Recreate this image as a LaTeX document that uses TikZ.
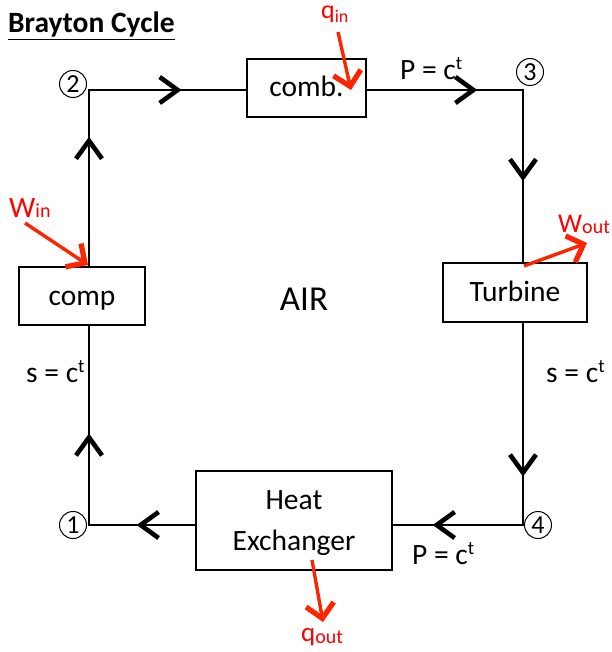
\documentclass[tikz,border=0pt]{standalone}
\usepackage{fontspec}
\setmainfont{Carlito}
\usetikzlibrary{arrows.meta,decorations.markings}
\definecolor{redtxt}{RGB}{255,0,0}
\definecolor{redarr}{RGB}{255,36,0}
\newcommand{\lblfont}{\fontsize{29.5}{34}\selectfont}
\newcommand{\subfont}{\fontsize{20}{22}\selectfont}
\newcommand{\myct}{c\raisebox{10pt}{\fontsize{19}{19}\selectfont t}}
\begin{document}
\begin{tikzpicture}[x=1pt,y=-1pt]
\tikzset{
  flow/.style={line width=2.9pt, line cap=rect},
  chev/.tip={Straight Barb[length=18pt,width=26pt,line width=4.6pt]},
  midarrow/.style={postaction={decorate}, decoration={markings, mark=at position #1 with {\arrow{chev}}}},
  unit/.style={draw, line width=2.2pt, inner sep=0pt, text height=18pt, text depth=0pt, font=\lblfont},
  stn/.style={circle, draw, line width=1pt, minimum size=27pt, inner sep=0pt, font=\fontsize{26}{26}\selectfont},
  lab/.style={anchor=base west, inner sep=0pt, font=\lblfont},
  heat/.style={line width=3.4pt, draw=redarr, -{Straight Barb[length=14pt,width=28pt,line width=5.2pt]}},
  redlab/.style={anchor=base west, inner sep=0pt, text=redtxt, font=\lblfont}
}
\useasboundingbox (0,0) rectangle (611,652);

% title
\node[anchor=base west, inner sep=0pt, font=\fontsize{29.5}{34}\selectfont\bfseries] (title) at (8,33) {\underline{Brayton Cycle}};

% units
\node[unit, minimum width=119pt, minimum height=58pt] (comb) at (306.5,88) {comb.};
\node[unit, minimum width=144pt, minimum height=59pt] (turb) at (515,292.5) {Turbine};
\node[unit, minimum width=126pt, minimum height=58pt] (comp) at (82,296) {comp};
\node[draw, line width=2.2pt, inner sep=0pt, minimum width=196pt, minimum height=99pt, align=center, text depth=0pt, font=\fontsize{29.5}{41}\selectfont] (hx) at (294,520.5) {Heat\\Exchanger};

\node[font=\fontsize{35}{40}\selectfont, anchor=base, inner sep=0pt] (air) at (304,310) {AIR};

% corner points
\coordinate (p2) at (89,90);
\coordinate (p3) at (523,90);
\coordinate (p4) at (523,525);
\coordinate (p1) at (89,525);

% station markers
\node[stn] (s2) at (73,84) {2};
\node[stn] (s3) at (530,72) {3};
\node[stn] (s1) at (73,525) {1};
\node[stn] (s4) at (538,525) {4};

% flow lines
\draw[flow, midarrow=0.59] (p2) -- (comb.west |- p2);
\draw[flow, midarrow=0.707] (comb.east |- p3) -- (p3);
\draw[flow, midarrow=0.53] (p3) -- (p3 |- turb.north);
\draw[flow, midarrow=0.76] (p4 |- turb.south) -- (p4);
\draw[flow, midarrow=0.695] (p4) -- (hx.east |- p4);
\draw[flow, midarrow=0.55] (hx.west |- p1) -- (p1);
\draw[flow, midarrow=0.46] (p1) -- (p1 |- comp.south);
\draw[flow, midarrow=0.734] (p1 |- comp.north) -- (p2);

% process labels
\node[lab] (ptop) at (400,80) {P = \myct};
\node[lab] (sleft) at (26,382) {s = \myct};
\node[lab] (sright) at (546,382) {s = \myct};
\node[lab] (pbot) at (412,564) {P = \myct};

% heat and work
\coordinate (qinT) at (338,32);
\coordinate (qinH) at (351,90);
\draw[heat] (qinT) -- (qinH);
\node[redlab, font=\fontsize{26}{28}\selectfont] (qin) at (321,19) {q\raisebox{-4pt}{\fontsize{18}{20}\selectfont in}};

\coordinate (winT) at (25,223);
\coordinate (winH) at (88,265);
\draw[heat] (winT) -- (winH);
\node[redlab] (win) at (9,217) {W\raisebox{-1pt}{\subfont in}};

\coordinate (woutT) at (524,266);
\coordinate (woutH) at (587,243);
\draw[heat] (woutT) -- (woutH);
\node[redlab, font=\fontsize{27}{30}\selectfont] (wout) at (558,233) {W\raisebox{-1pt}{\subfont out}};

\coordinate (qoutT) at (312,560);
\coordinate (qoutH) at (323,622);
\draw[heat] (qoutT) -- (qoutH);
\node[redlab, font=\fontsize{27}{30}\selectfont] (qout) at (301,641) {q\raisebox{-2pt}{\subfont out}};
\end{tikzpicture}
\end{document}
